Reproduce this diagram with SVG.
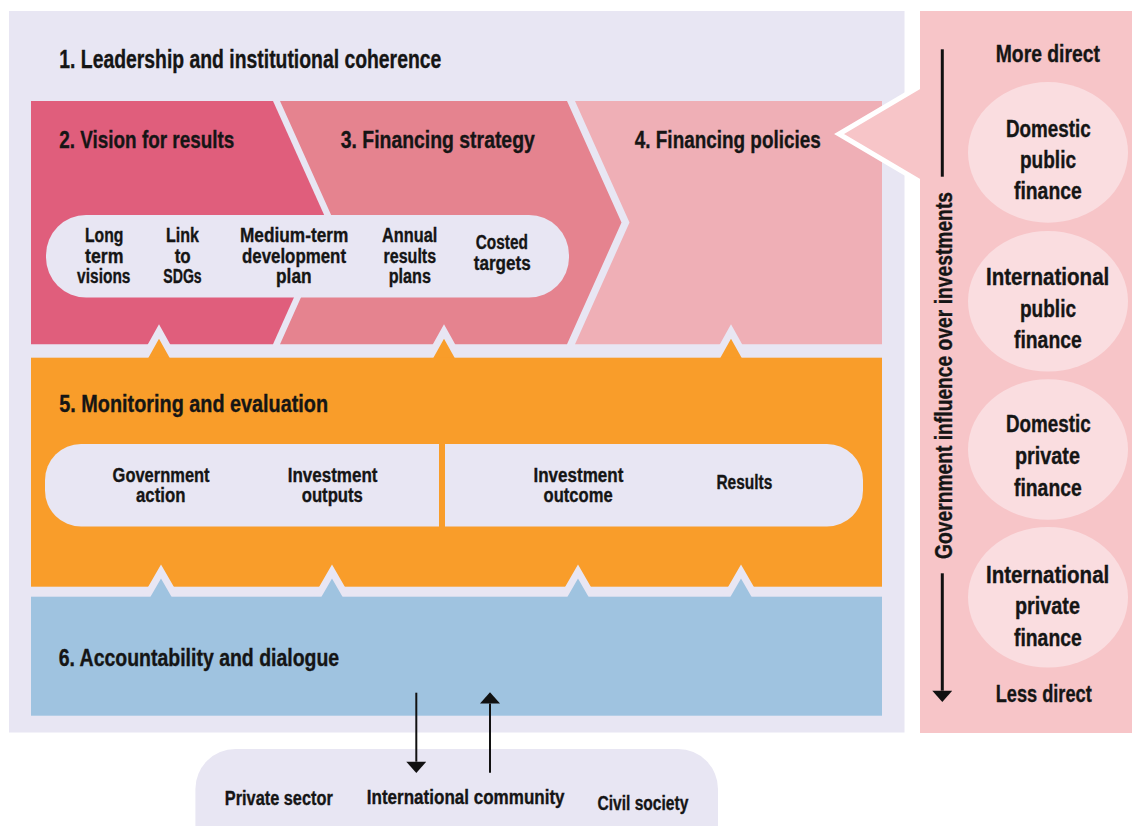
<svg xmlns="http://www.w3.org/2000/svg" width="1132" height="826" viewBox="0 0 1132 826">
<style>
text{font-family:"Liberation Sans Narrow","Liberation Sans",Arial,sans-serif;font-weight:bold;fill:#151515;stroke:#151515;stroke-width:0.35}
.t1{font-size:25px}.t2{font-size:24px}.t3{font-size:23px}.p1{font-size:20px}.p2{font-size:20px}.c{font-size:23px}.b{font-size:20px}
.lav{fill:#E8E6F3}
.notchO{fill:#F99D2A;stroke:#E8E6F3;stroke-width:7;stroke-linejoin:miter}
.notchB{fill:#9FC3E0;stroke:#E8E6F3;stroke-width:7;stroke-linejoin:miter}
.circ{fill:#FADDE0}
.arr{stroke:#111;stroke-width:2;fill:none}
</style>
<defs>
<marker id="head" markerUnits="userSpaceOnUse" markerWidth="12" markerHeight="20" viewBox="0 0 11 19.5" refX="0" refY="9.75" orient="auto">
<path d="M0,0 L11,9.75 L0,19.5 Z" fill="#111"/>
</marker>
</defs>
<rect width="1132" height="826" fill="#FFFFFF"/>
<g id="leadership">
<rect class="lav" x="9" y="11" width="895.5" height="721.5"/>
<text class="t1" x="59.3" y="68.3" textLength="382" lengthAdjust="spacingAndGlyphs">1. Leadership and institutional coherence</text>
</g>
<g id="vision">
<polygon points="31,101 273,101 327.5,222.5 273,344.3 31,344.3" fill="#E05E7C"/>
<text class="t2" x="59.3" y="147.7" textLength="175" lengthAdjust="spacingAndGlyphs">2. Vision for results</text>
</g>
<g id="strategy">
<polygon points="280,101 567,101 621.5,222.5 567,344.3 280,344.3 334.5,222.5" fill="#E5838F"/>
<text class="t2" x="340.8" y="147.7" textLength="194" lengthAdjust="spacingAndGlyphs">3. Financing strategy</text>
</g>
<g id="policies">
<polygon points="575,101 882,101 882,344.3 575,344.3 629.5,222.5" fill="#EFAFB6"/>
<text class="t2" x="634.8" y="147.7" textLength="186" lengthAdjust="spacingAndGlyphs">4. Financing policies</text>
</g>
<g id="vision-pill">
<rect class="lav" x="46" y="215" width="523" height="82.5" rx="40" ry="40"/>
<text class="p1" x="85" y="242.3" textLength="38.4" lengthAdjust="spacingAndGlyphs">Long</text>
<text class="p1" x="85" y="262.7" textLength="38.4" lengthAdjust="spacingAndGlyphs">term</text>
<text class="p1" x="77.1" y="283" textLength="53.4" lengthAdjust="spacingAndGlyphs">visions</text>
<text class="p1" x="166" y="242.3" textLength="33" lengthAdjust="spacingAndGlyphs">Link</text>
<text class="p1" x="174.7" y="262.7" textLength="16" lengthAdjust="spacingAndGlyphs">to</text>
<text class="p1" x="163.3" y="283" textLength="38.4" lengthAdjust="spacingAndGlyphs">SDGs</text>
<text class="p1" x="240" y="242.3" textLength="108.3" lengthAdjust="spacingAndGlyphs">Medium-term</text>
<text class="p1" x="242" y="262.7" textLength="104" lengthAdjust="spacingAndGlyphs">development</text>
<text class="p1" x="276" y="283" textLength="35.6" lengthAdjust="spacingAndGlyphs">plan</text>
<text class="p1" x="382" y="242.3" textLength="55.3" lengthAdjust="spacingAndGlyphs">Annual</text>
<text class="p1" x="383.5" y="262.7" textLength="52.6" lengthAdjust="spacingAndGlyphs">results</text>
<text class="p1" x="388.7" y="283" textLength="42.3" lengthAdjust="spacingAndGlyphs">plans</text>
<text class="p1" x="475.7" y="249.3" textLength="52.2" lengthAdjust="spacingAndGlyphs">Costed</text>
<text class="p1" x="473.7" y="270" textLength="57" lengthAdjust="spacingAndGlyphs">targets</text>
</g>
<g id="upper-notches">
<polygon class="notchO" points="142,362 159,331.5 176,362"/>
<polygon class="notchO" points="427,362 444,331.5 461,362"/>
<polygon class="notchO" points="714,362 731,331.5 748,362"/>
</g>
<g id="monitoring">
<rect x="31" y="357.7" width="851" height="229" fill="#F99D2A"/>
<text class="t3" x="59.3" y="412.3" textLength="268.8" lengthAdjust="spacingAndGlyphs">5. Monitoring and evaluation</text>
<path class="lav" d="M439,444 H81 A36,36 0 0 0 45,480 V490.5 A36,36 0 0 0 81,526.5 H439 Z"/>
<path class="lav" d="M445,444 H827 A36,36 0 0 1 863,480 V490.5 A36,36 0 0 1 827,526.5 H445 Z"/>
<text class="p2" x="112.6" y="481.7" textLength="97" lengthAdjust="spacingAndGlyphs">Government</text>
<text class="p2" x="136" y="502" textLength="49.4" lengthAdjust="spacingAndGlyphs">action</text>
<text class="p2" x="287.7" y="481.7" textLength="89.8" lengthAdjust="spacingAndGlyphs">Investment</text>
<text class="p2" x="301.7" y="502" textLength="61.2" lengthAdjust="spacingAndGlyphs">outputs</text>
<text class="p2" x="533.5" y="481.7" textLength="89.8" lengthAdjust="spacingAndGlyphs">Investment</text>
<text class="p2" x="543.6" y="502" textLength="69" lengthAdjust="spacingAndGlyphs">outcome</text>
<text class="p2" x="716.4" y="489.3" textLength="56" lengthAdjust="spacingAndGlyphs">Results</text>
</g>
<g id="lower-notches">
<polygon class="notchB" points="144,601 161,571.5 178,601"/>
<polygon class="notchB" points="315,601 332,571.5 349,601"/>
<polygon class="notchB" points="561,601 578,571.5 595,601"/>
<polygon class="notchB" points="724,601 741,571.5 758,601"/>
</g>
<g id="accountability">
<rect x="31" y="596.7" width="851" height="119" fill="#9FC3E0"/>
<text class="t3" x="58.7" y="666" textLength="280.5" lengthAdjust="spacingAndGlyphs">6. Accountability and dialogue</text>
</g>
<g id="stakeholders">
<rect class="lav" x="195.4" y="749" width="522.6" height="120" rx="40" ry="40"/>
<text class="b" x="224.8" y="805" textLength="108" lengthAdjust="spacingAndGlyphs">Private sector</text>
<text class="b" x="366.8" y="804.3" textLength="197.8" lengthAdjust="spacingAndGlyphs">International community</text>
<text class="b" x="597.4" y="810" textLength="91" lengthAdjust="spacingAndGlyphs">Civil society</text>
</g>
<g id="callout">
<polygon points="935,77.4 839,134 935,190.6" fill="#F7C5C8" stroke="#FFFFFF" stroke-width="5" stroke-linejoin="miter"/>
</g>
<g id="finance-sources">
<rect x="920" y="11" width="212" height="722" fill="#F7C5C8"/>
<text class="c" x="995.7" y="61.7" textLength="104.3" lengthAdjust="spacingAndGlyphs">More direct</text>
<text class="c" x="995.7" y="701.7" textLength="96" lengthAdjust="spacingAndGlyphs">Less direct</text>
<text class="c" x="952" y="559" transform="rotate(-90 952 559)" textLength="367" lengthAdjust="spacingAndGlyphs">Government influence over investments</text>
</g>
<g id="domestic-public">
<ellipse class="circ" cx="1048" cy="152.4" rx="80" ry="70.3"/>
<text class="c" x="1006" y="136.7" textLength="84.7" lengthAdjust="spacingAndGlyphs">Domestic</text>
<text class="c" x="1020" y="168.3" textLength="56" lengthAdjust="spacingAndGlyphs">public</text>
<text class="c" x="1014" y="199.3" textLength="67.7" lengthAdjust="spacingAndGlyphs">finance</text>
</g>
<g id="international-public">
<ellipse class="circ" cx="1048" cy="301.3" rx="80" ry="70.3"/>
<text class="c" x="986" y="285" textLength="123.3" lengthAdjust="spacingAndGlyphs">International</text>
<text class="c" x="1020" y="316.7" textLength="56" lengthAdjust="spacingAndGlyphs">public</text>
<text class="c" x="1014" y="348.3" textLength="67.7" lengthAdjust="spacingAndGlyphs">finance</text>
</g>
<g id="domestic-private">
<ellipse class="circ" cx="1048" cy="449.5" rx="80" ry="70.3"/>
<text class="c" x="1006" y="432.3" textLength="84.7" lengthAdjust="spacingAndGlyphs">Domestic</text>
<text class="c" x="1015" y="464" textLength="65" lengthAdjust="spacingAndGlyphs">private</text>
<text class="c" x="1014" y="496" textLength="67.7" lengthAdjust="spacingAndGlyphs">finance</text>
</g>
<g id="international-private">
<ellipse class="circ" cx="1048" cy="597.3" rx="80" ry="70.3"/>
<text class="c" x="986" y="582.7" textLength="123.3" lengthAdjust="spacingAndGlyphs">International</text>
<text class="c" x="1015" y="614" textLength="65" lengthAdjust="spacingAndGlyphs">private</text>
<text class="c" x="1014" y="646" textLength="67.7" lengthAdjust="spacingAndGlyphs">finance</text>
</g>
<g id="connectors">
<line class="arr" x1="416.3" y1="692.7" x2="416.3" y2="761.7" marker-end="url(#head)"/>
<line class="arr" x1="490" y1="772.7" x2="490" y2="703.5" marker-end="url(#head)"/>
<line x1="942.3" y1="49.3" x2="942.3" y2="176.7" stroke="#111" stroke-width="3"/>
<line x1="942.3" y1="573.3" x2="942.3" y2="690.7" stroke="#111" stroke-width="3" marker-end="url(#head)"/>
</g>
</svg>
